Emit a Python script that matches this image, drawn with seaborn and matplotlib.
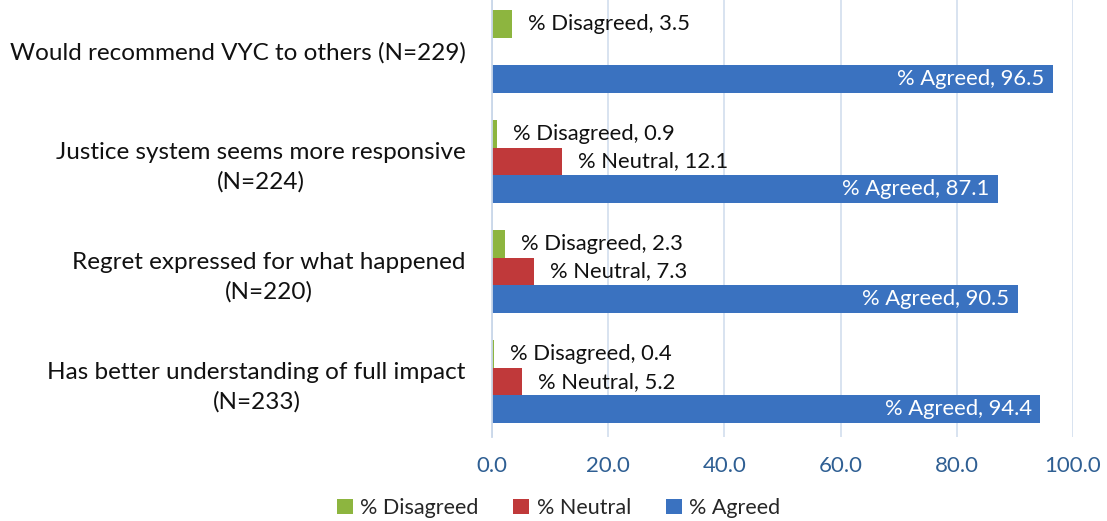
import matplotlib
matplotlib.use("Agg")
import matplotlib.pyplot as plt
import seaborn as sns
import pandas as pd
from matplotlib.patches import Patch

categories = [
    "Would recommend VYC to others (N=229)",
    "Justice system seems more responsive\n(N=224)",
    "Regret expressed for what happened\n(N=220)",
    "Has better understanding of full impact\n(N=233)",
]
series = ["% Disagreed", "% Neutral", "% Agreed"]
disagreed = [3.5, 0.9, 2.3, 0.4]
neutral = [None, 12.1, 7.3, 5.2]
agreed = [96.5, 87.1, 90.5, 94.4]
x_ticks = [0, 20, 40, 60, 80, 100]
colors = ["#8DB53F", "#C0393A", "#3A72C0"]

rows = []
for s, vals in zip(series, [disagreed, neutral, agreed]):
    for c, v in zip(categories, vals):
        if v is not None:
            rows.append({"category": c, "series": s, "value": v})
df = pd.DataFrame(rows)

sns.set_style("white")
FONT = ["Lato", "DejaVu Sans"]
plt.rcParams["font.family"] = FONT

fig = plt.figure(figsize=(11.07, 5.21), dpi=100)
ax = fig.add_axes([0.4445, 0.1616, 0.9693 - 0.4445, 1.0073 - 0.1616])

sns.barplot(data=df, x="value", y="category", hue="series", order=categories,
            hue_order=series, palette=colors, width=0.75, dodge=True,
            orient="h", ax=ax, legend=False, saturation=1, edgecolor="none")

ax.set_xlim(0, 100)
ax.set_xticks(x_ticks)
ax.set_xticklabels([f"{t:.1f}" for t in x_ticks])
ax.set_xlabel("")
ax.set_ylabel("")
ax.grid(axis="x", color="#D6E1EF", linewidth=1.3)
ax.set_axisbelow(True)
for sp in ["top", "right", "bottom"]:
    ax.spines[sp].set_visible(False)
ax.spines["left"].set_color("#C9D7E9")
ax.spines["left"].set_linewidth(1.3)
ax.tick_params(axis="x", length=0, pad=14, labelsize=16, labelcolor="#2F5F93")
ax.tick_params(axis="y", length=0, pad=19, labelsize=17.5, labelcolor="#111111")
for lab in ax.get_yticklabels():
    lab.set_multialignment("center")
    lab.set_linespacing(1.45)

for name, cont in zip(series, ax.containers):
    for bar, val in zip(cont.patches, cont.datavalues):
        y = bar.get_y() + bar.get_height() / 2
        w = bar.get_width()
        if name == "% Agreed":
            ax.annotate(f"{name}, {val:.1f}", (w, y), xytext=(-6, 0),
                        textcoords="offset points", ha="right", va="center",
                        color="white", fontsize=15.8)
        else:
            ax.annotate(f"{name}, {val:.1f}", (w, y), xytext=(11, 0),
                        textcoords="offset points", ha="left", va="center",
                        color="#111111", fontsize=15.8)

handles = [Patch(facecolor=c, edgecolor="none") for c in colors]
fig.legend(handles, series, loc="center", bbox_to_anchor=(0.5045, 0.025),
           ncol=3, frameon=False, fontsize=15.5, handlelength=0.75,
           handleheight=0.75, handletextpad=0.35, columnspacing=1.6)

fig.savefig("out.png", dpi=100)
